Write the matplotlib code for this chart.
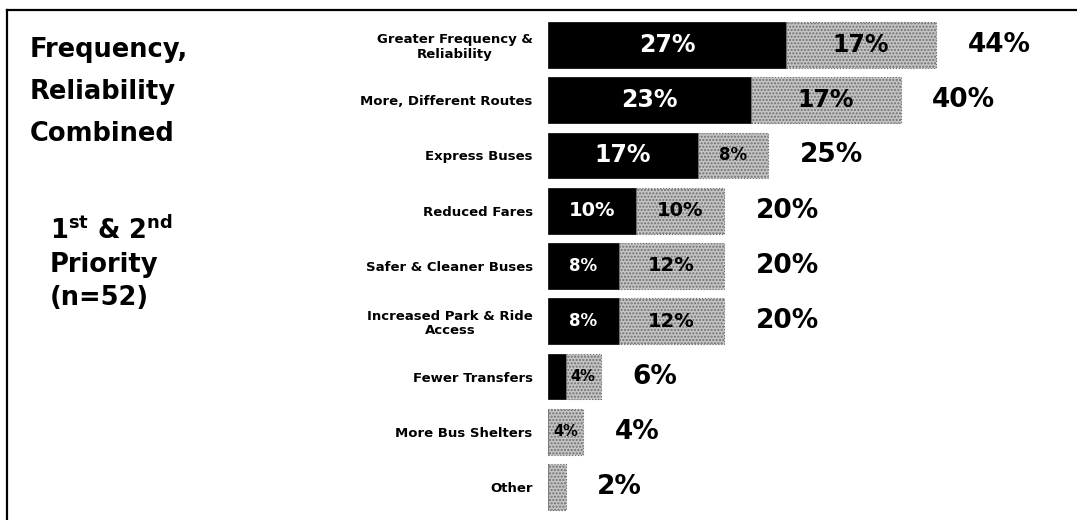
import numpy as np
import matplotlib
matplotlib.use("Agg")
import matplotlib.pyplot as plt
from matplotlib.lines import Line2D

# survey data: first priority (black) + second priority (gray) = combined
categories = ["Greater Frequency &\nReliability", "More, Different Routes", "Express Buses",
              "Reduced Fares", "Safer & Cleaner Buses", "Increased Park & Ride\nAccess",
              "Fewer Transfers", "More Bus Shelters", "Other"]
first = [27, 23, 17, 10, 8, 8, 2, 0, 0]
second = [17, 17, 8, 10, 12, 12, 4, 4, 2]
totals = [44, 40, 25, 20, 20, 20, 6, 4, 2]

plt.rcParams['font.family'] = ['DejaVu Sans']

fig = plt.figure(figsize=(10.77, 5.2), dpi=100)
ax = fig.add_axes([548/1077, 0, 520/1077, 510/520])

y = np.arange(len(categories))
h = 0.83
ax.barh(y, first, height=h, color='black', edgecolor='black', linewidth=0.5)
ax.barh(y, second, left=first, height=h, color='#c4c4c4', edgecolor='#6e6e6e',
        linewidth=0.8, linestyle=':', hatch='.....')

def seg_size(v):
    if v >= 17:
        return 17
    if v >= 10:
        return 14
    if v >= 8:
        return 12
    return 10.5

for i in range(len(categories)):
    f, s, t = first[i], second[i], totals[i]
    if f >= 8:
        ax.text(f/2, i, f"{f}%", color='white', ha='center', va='center',
                fontsize=seg_size(f), fontweight='bold')
    if s >= 4:
        ax.text(f + s/2, i, f"{s}%", color='black', ha='center', va='center',
                fontsize=seg_size(s), fontweight='bold')
    ax.text(t + 3.6, i, f"{t}%", color='black', ha='left', va='center',
            fontsize=19, fontweight='bold')

ax.set_xlim(0, 59)
ax.set_ylim(8.597, -0.633)
ax.set_yticks(y)
ax.set_yticklabels(categories, fontsize=9.5, fontweight='bold', ha='right',
                   multialignment='center', linespacing=1.15)
ax.tick_params(axis='y', length=0, pad=11)
ax.set_xticks([])
for sp in ax.spines.values():
    sp.set_visible(False)

# frame lines of the slide
fig.add_artist(Line2D([7/1077, 1.0], [1 - 10/520, 1 - 10/520], color='black', lw=1.6))
fig.add_artist(Line2D([7/1077, 7/1077], [0, 1 - 10/520], color='black', lw=1.6))

fig.text(30/1077, 1 - 37/520, "Frequency,\nReliability\nCombined", fontsize=18.5,
         fontweight='bold', ha='left', va='top', linespacing=1.8)
fig.text(50/1077, 1 - 216/520,
         r"1$^{\mathbf{st}}$ & 2$^{\mathbf{nd}}$" + "\nPriority\n(n=52)",
         fontsize=18.5, fontweight='bold', ha='left', va='top', linespacing=1.35)

fig.savefig("out.png", dpi=100)
